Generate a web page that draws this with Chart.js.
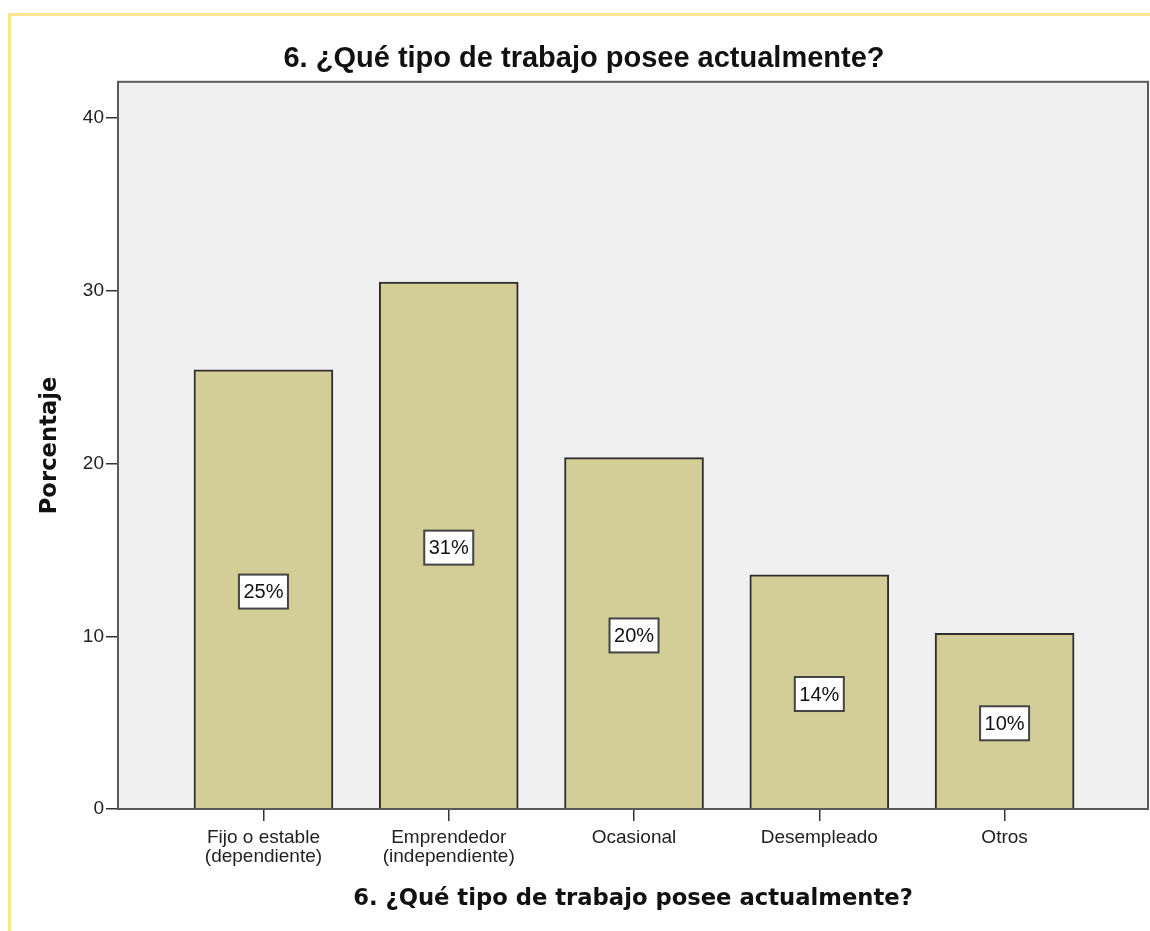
<!DOCTYPE html>
<html>
<head>
<meta charset="utf-8">
<script src="https://cdn.jsdelivr.net/npm/chart.js@4/dist/chart.umd.min.js"></script>
<style>
    html, body { margin: 0; padding: 0; background: #fff; overflow: hidden; }
    #wrap { position: relative; width: 1150px; height: 931px; }
    #frame { position: absolute; left: 8px; top: 13px; width: 1200px; height: 1000px;
             border-top: 3px solid #fde48e; border-left: 3px solid #fde48e; }
    canvas { position: absolute; left: 0; top: 0; }
</style>
</head>
<body>
<div id="wrap">
    <div id="frame"></div>
    <canvas id="chart" width="1150" height="931"></canvas>
</div>
<script>
const chartTitle = '6. ¿Qué tipo de trabajo posee actualmente?';
const categories = [
    ['Fijo o estable', '(dependiente)'],
    ['Emprendedor', '(independiente)'],
    ['Ocasional'],
    ['Desempleado'],
    ['Otros']
];
const percentages = [25.42, 30.51, 20.34, 13.56, 10.17];
const yTicks = [0, 10, 20, 30, 40];

// gray plot background + frame around it
const plotFrame = {
    id: 'plotFrame',
    beforeDatasetsDraw(chart) {
        const { ctx, chartArea: a } = chart;
        ctx.save();
        ctx.fillStyle = '#f0f0f0';
        ctx.fillRect(a.left, a.top, a.right - a.left, a.bottom - a.top);
        ctx.restore();
    },
    afterDatasetsDraw(chart) {
        const { ctx, chartArea: a } = chart;
        ctx.save();
        ctx.strokeStyle = '#5a5a5a';
        ctx.lineWidth = 2;
        ctx.strokeRect(a.left, a.top, a.right - a.left, a.bottom - a.top);
        ctx.restore();
    }
};

// white boxed percentage labels in the middle of each bar
const barLabels = {
    id: 'barLabels',
    afterDatasetsDraw(chart) {
        const ctx = chart.ctx;
        const meta = chart.getDatasetMeta(0);
        ctx.save();
        ctx.font = '20px "Liberation Sans", Arial, sans-serif';
        ctx.textAlign = 'center';
        ctx.textBaseline = 'middle';
        meta.data.forEach((bar, i) => {
            const txt = Math.round(percentages[i]) + '%';
            const cy = (bar.y + bar.base) / 2 + 2.5;
            const w = 49, h = 34;
            ctx.fillStyle = '#ffffff';
            ctx.fillRect(bar.x - w / 2, cy - h / 2, w, h);
            ctx.strokeStyle = '#444';
            ctx.lineWidth = 2;
            ctx.strokeRect(bar.x - w / 2, cy - h / 2, w, h);
            ctx.fillStyle = '#111';
            ctx.fillText(txt, bar.x, cy + 1);
        });
        ctx.restore();
    }
};

const ctx = document.getElementById('chart').getContext('2d');
new Chart(ctx, {
    type: 'bar',
    data: {
        datasets: [{
            data: percentages.map((v, i) => ({ x: i, y: v })),
            backgroundColor: '#d3ce97',
            borderColor: '#2e2e2e',
            borderWidth: 2,
            barThickness: 139
        }]
    },
    options: {
        responsive: false,
        animation: false,
        layout: { padding: { left: 20, right: 2, top: 0, bottom: 0 } },
        plugins: {
            legend: { display: false },
            tooltip: { enabled: false },
            title: {
                display: true,
                text: chartTitle,
                color: '#111',
                font: { family: '"Liberation Sans", Arial, sans-serif', size: 29, weight: 'bold' },
                padding: { top: 42, bottom: 5 }
            }
        },
        scales: {
            x: {
                type: 'linear',
                offset: false,
                min: -0.785,
                max: 4.774,
                afterBuildTicks: s => { s.ticks = categories.map((c, i) => ({ value: i })); },
                afterFit: s => { s.height = 122; },
                ticks: {
                    callback: v => categories[v],
                    color: '#222',
                    padding: 7,
                    maxRotation: 0,
                    autoSkip: false,
                    font: { family: '"Liberation Sans", Arial, sans-serif', size: 19, lineHeight: 1 }
                },
                grid: { offset: false, drawOnChartArea: false, drawTicks: true, tickLength: 12, color: '#333', lineWidth: 1.5 },
                border: { display: true, color: '#333', width: 2 },
                title: {
                    display: true,
                    text: chartTitle,
                    color: '#111',
                    font: { family: '"DejaVu Sans", sans-serif', size: 22.7, weight: 'bold' },
                    padding: { top: 0, bottom: 18 }
                }
            },
            y: {
                min: 0,
                max: 42.1,
                afterBuildTicks: s => { s.ticks = yTicks.map(v => ({ value: v })); },
                afterFit: s => { s.width = 98; },
                ticks: {
                    color: '#222',
                    padding: 2,
                    font: { family: '"Liberation Sans", Arial, sans-serif', size: 19 }
                },
                grid: { drawOnChartArea: false, drawTicks: true, tickLength: 12, color: '#333', lineWidth: 1.5 },
                border: { display: true, color: '#333', width: 2 },
                title: {
                    display: true,
                    text: 'Porcentaje',
                    color: '#111',
                    font: { family: '"DejaVu Sans", sans-serif', size: 22.7, weight: 'bold' },
                    padding: { top: 16, bottom: 0 }
                }
            }
        }
    },
    plugins: [plotFrame, barLabels]
});
</script>
</body>
</html>
